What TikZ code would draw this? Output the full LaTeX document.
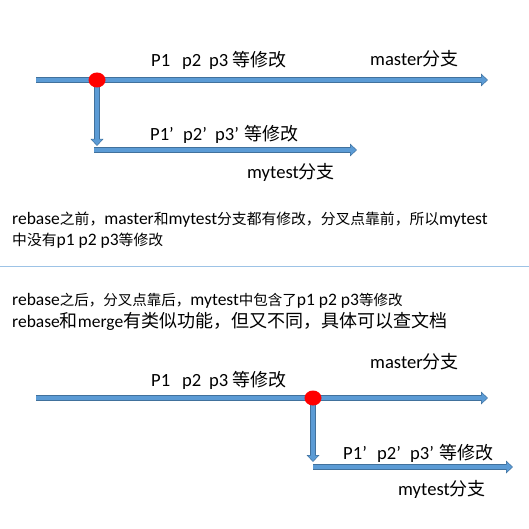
\documentclass[tikz,border=0pt]{standalone}
\usepackage{fontspec}
\setmainfont{Carlito}
\newfontfamily\cjk{Noto Sans CJK SC}
\usetikzlibrary{arrows.meta,shapes.geometric}
\definecolor{arrowblue}{HTML}{5B9BD5}
\definecolor{arrowedge}{HTML}{41719C}
\definecolor{sepblue}{HTML}{9DC3E6}
\def\zhsize{18}
\newcommand\zh[1]{{\cjk\fontsize{\zhsize}{\zhsize}\selectfont #1}}
\tikzset{
  branch/.style={line width=5.8pt, draw=arrowedge, -{Triangle[length=7pt,width=12.5pt]},
    postaction={draw=arrowblue, line width=4.2pt, -{Triangle[length=5.6pt,width=10pt]}, shorten >=0.9pt}},
  forkdot/.style={ellipse, fill=red, inner sep=0pt, minimum width=17pt, minimum height=15pt},
  lbl/.style={inner sep=0pt, anchor=west, font={\fontsize{18.6}{22}\selectfont\def\zhsize{18}}},
  paraA/.style={inner sep=0pt, anchor=west, font={\fontsize{17.5}{20}\selectfont\def\zhsize{14.8}}},
  paraB/.style={inner sep=0pt, anchor=west, font={\fontsize{17.5}{20}\selectfont\def\zhsize{14.5}}},
  paraC/.style={inner sep=0pt, anchor=west, font={\fontsize{17.5}{20}\selectfont\def\zhsize{18}}},
  sep/.style={draw=sepblue, line width=1.5pt}
}
\begin{document}
\begin{tikzpicture}[x=1pt,y=-1pt]
\fill[white] (0,0) rectangle (529,529);
\useasboundingbox (0,0) rectangle (529,529);

% ---------- top diagram ----------
\coordinate (m1s) at (36,80);
\coordinate (m1e) at (488,80);
\coordinate (f1c) at (97,80);
\coordinate (v1e) at (97,146);
\coordinate (b1s) at (94,150);
\coordinate (b1e) at (357,150);
\draw[branch] (m1s) -- (m1e);
\draw[branch] (f1c) -- (v1e);
\draw[branch] (b1s) -- (b1e);
\node[forkdot] (f1) at (f1c) {};

\node[lbl] (t1) at (151,60) {\makebox[31pt][l]{P1}\makebox[27pt][l]{p2}\makebox[23pt][l]{p3}\zh{等修改}};
\node[lbl] (t2) at (370,59) {master\zh{分支}};
\node[lbl] (t3) at (150,134) {\makebox[33pt][l]{P1’}\makebox[32pt][l]{p2’}\makebox[29pt][l]{p3’}\zh{等修改}};
\node[lbl] (t4) at (247,172) {mytest\zh{分支}};

% ---------- paragraphs ----------
\node[paraA] (p1) at (12,220) {rebase\zh{之前，}master\zh{和}mytest\zh{分支都有修改，分叉点靠前，所以}mytest};
\node[paraA] (p2) at (12,241) {\zh{中没有}p1 p2 p3\zh{等修改}};
\coordinate (sl) at (0,266.5);
\coordinate (sr) at (529,266.5);
\draw[sep] (sl) -- (sr);
\node[paraB] (p3) at (12,301) {rebase\zh{之后，分叉点靠后，}mytest\zh{中包含了}p1 p2 p3\zh{等修改}};
\node[paraC] (p4) at (12,321) {rebase\zh{和}merge\zh{有类似功能，但又不同，具体可以查文档}};

% ---------- bottom diagram ----------
\coordinate (m2s) at (36,398);
\coordinate (m2e) at (488,398);
\coordinate (f2c) at (313,398);
\coordinate (v2e) at (313,462);
\coordinate (b2s) at (313,467);
\coordinate (b2e) at (513,467);
\draw[branch] (m2s) -- (m2e);
\draw[branch] (f2c) -- (v2e);
\draw[branch] (b2s) -- (b2e);
\node[forkdot] (f2) at (f2c) {};

\node[lbl] (u1) at (370,362) {master\zh{分支}};
\node[lbl] (u2) at (151,380) {\makebox[31pt][l]{P1}\makebox[27pt][l]{p2}\makebox[23pt][l]{p3}\zh{等修改}};
\node[lbl] (u3) at (343,453) {\makebox[34pt][l]{P1’}\makebox[33pt][l]{p2’}\makebox[29pt][l]{p3’}\zh{等修改}};
\node[lbl] (u4) at (398,489) {mytest\zh{分支}};
\end{tikzpicture}
\end{document}
